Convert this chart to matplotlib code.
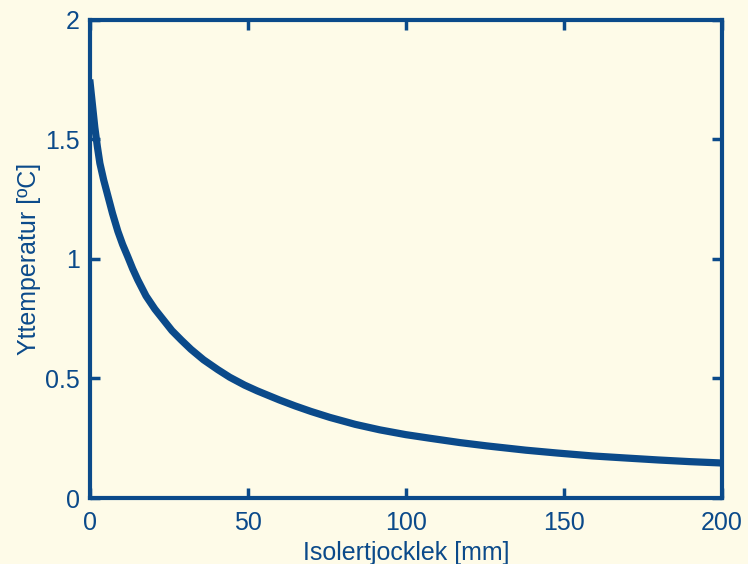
import numpy as np
import matplotlib.pyplot as plt

plt.rcParams['font.family'] = ['Liberation Sans', 'DejaVu Sans']

# values
thickness = [0, 0.8, 1.6, 2.4, 3.2, 4.4, 5.7, 7.2, 8.9, 10.4, 12, 13.6, 15.2, 17.8, 20.6,
             23.3, 26, 29, 32, 36, 40.5, 44.3, 49, 53, 57.6, 60, 65, 70, 76, 84, 91.8,
             100, 107.6, 117, 125.6, 138, 148, 159, 170, 180, 190, 199, 200]
temperature = [1.75, 1.65, 1.55, 1.47, 1.40, 1.33, 1.265, 1.19, 1.115, 1.06, 1.01, 0.958, 0.912,
               0.845, 0.79, 0.745, 0.70, 0.66, 0.622, 0.578, 0.537, 0.505, 0.472, 0.448, 0.423,
               0.41, 0.385, 0.362, 0.337, 0.308, 0.285, 0.265, 0.25, 0.232, 0.218, 0.20, 0.188,
               0.176, 0.167, 0.159, 0.152, 0.147, 0.146]

xticks = [0, 50, 100, 150, 200]
yticks = [0, 0.5, 1, 1.5, 2]
ytick_labels = ['0', '0.5', '1', '1.5', '2']

bg = '#fefbe8'
blue = '#0b4a8a'

fig = plt.figure(figsize=(7.48, 5.64), dpi=100, facecolor=bg)
ax = fig.add_axes([0.120, 0.117, 0.845, 0.848], facecolor=bg)

ax.plot(thickness, temperature, color=blue, lw=5.2, solid_capstyle='butt',
        solid_joinstyle='round')

ax.set_xlim(0, 200)
ax.set_ylim(0, 2)
ax.set_xticks(xticks)
ax.set_yticks(yticks)
ax.set_yticklabels(ytick_labels)

for s in ax.spines.values():
    s.set_color(blue)
    s.set_linewidth(3)

ax.tick_params(direction='in', length=7, width=2.5, color=blue, labelcolor=blue,
               labelsize=18, top=True, right=True)
ax.tick_params(axis='x', pad=9)
ax.tick_params(axis='y', pad=7)

ax.set_xlabel('Isolertjocklek [mm]', color=blue, fontsize=18, labelpad=5)
ax.set_ylabel('Yttemperatur [ºC]', color=blue, fontsize=18, labelpad=3)

fig.savefig('out.png', dpi=100, facecolor=bg)
